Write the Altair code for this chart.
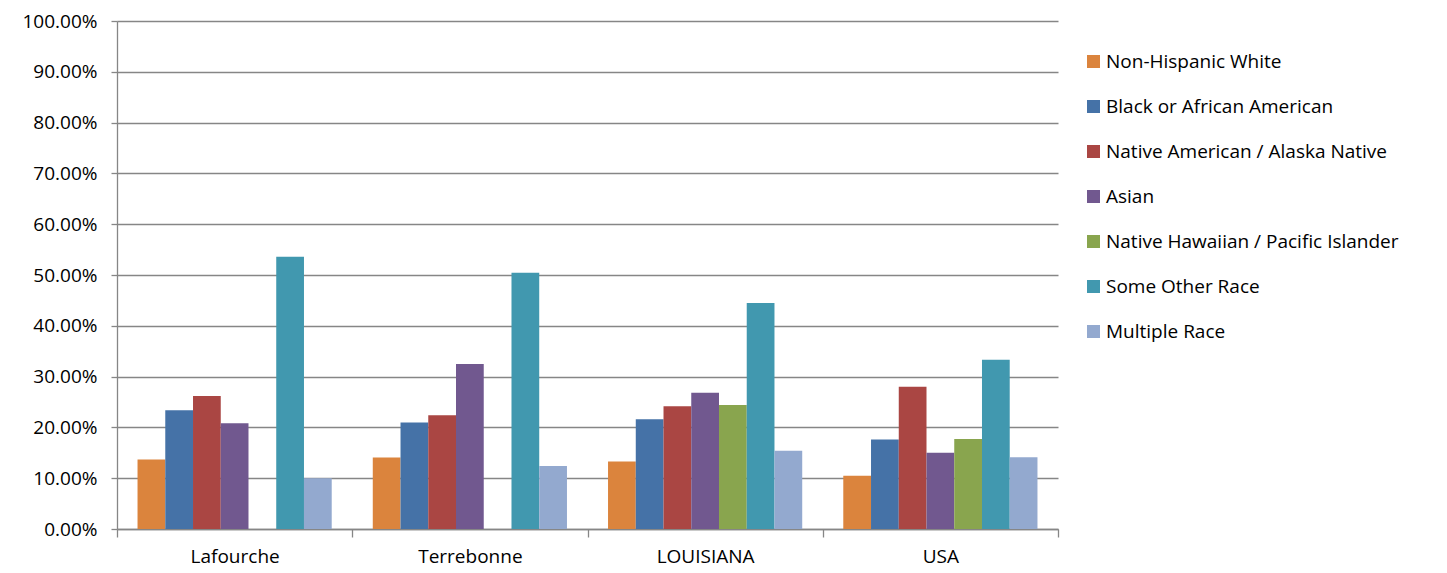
import altair as alt
import pandas as pd

regions = ["Lafourche", "Terrebonne", "LOUISIANA", "USA"]
races = ["Non-Hispanic White", "Black or African American",
         "Native American / Alaska Native", "Asian",
         "Native Hawaiian / Pacific Islander", "Some Other Race", "Multiple Race"]
colors = ["#DB843D", "#4572A7", "#AA4643", "#71588F", "#89A54E", "#4198AF", "#93A9CF"]

non_hispanic_white = [0.1367, 0.1406, 0.1328, 0.1050]
black = [0.2340, 0.2096, 0.2160, 0.1760]
native_american = [0.2620, 0.2240, 0.2415, 0.2800]
asian = [0.2080, 0.3250, 0.2680, 0.1500]
hawaiian = [None, None, 0.2440, 0.1770]
other = [0.5360, 0.5045, 0.4450, 0.3330]
multiple = [0.1000, 0.1240, 0.1540, 0.1410]

series = [non_hispanic_white, black, native_american, asian, hawaiian, other, multiple]
rows = []
for race, vals in zip(races, series):
    for reg, v in zip(regions, vals):
        if v is not None:
            rows.append({"region": reg, "race": race, "value": v})
df = pd.DataFrame(rows)

FONT = "Open Sans"
FS = 19

chart = alt.Chart(df).mark_bar().encode(
    x=alt.X("region:N", sort=regions, title=None,
            scale=alt.Scale(paddingInner=0, paddingOuter=0),
            axis=alt.Axis(labelAngle=0, tickBand="extent", tickSize=8,
                          labelPadding=10, domainColor="#868686",
                          tickColor="#868686", labelFontSize=FS,
                          labelColor="#000000", labelFont=FONT)),
    xOffset=alt.XOffset("race:N", sort=races,
                        scale=alt.Scale(domain=races, paddingInner=0, paddingOuter=0.74)),
    y=alt.Y("value:Q", title=None,
            scale=alt.Scale(domain=[0, 1], nice=False),
            axis=alt.Axis(format=".2%", values=[i / 10 for i in range(11)],
                          tickSize=6, labelPadding=14, domainColor="#868686",
                          tickColor="#868686", gridColor="#868686", gridWidth=1.3,
                          labelFontSize=FS, labelColor="#000000", labelFont=FONT)),
    color=alt.Color("race:N", sort=races,
                    scale=alt.Scale(domain=races, range=colors),
                    legend=alt.Legend(title=None, orient="none", legendX=967, legendY=31,
                                      symbolType="square", symbolSize=169,
                                      symbolStrokeWidth=0, symbolOpacity=1,
                                      labelFontSize=FS, labelFont=FONT,
                                      labelColor="#000000", labelOffset=3,
                                      rowPadding=25, labelLimit=400)),
).properties(
    width=941, height=508,
    padding={"left": 109, "top": 13, "right": 375, "bottom": 40},
    autosize=alt.AutoSizeParams(type="none"),
).configure_view(stroke=None).configure_axis(domainWidth=1.3, tickWidth=1.3)

chart.save("out.html", embed_options={"renderer": "svg", "actions": False})
